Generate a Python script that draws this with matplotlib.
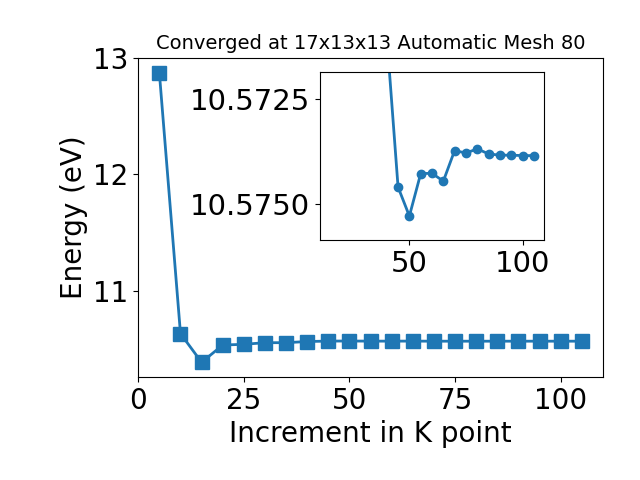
import matplotlib
matplotlib.use("Agg")
import matplotlib.pyplot as plt
from matplotlib.ticker import FormatStrFormatter

kpoints = [5, 10, 15, 20, 25, 30, 35, 40, 45, 50, 55, 60, 65, 70, 75, 80, 85, 90, 95, 100, 105]
energy = [12.87, 10.639, 10.393, 10.541, 10.547, 10.561, 10.561, 10.5710,
          10.57460, 10.57529, 10.57428, 10.57427, 10.57446, 10.57373, 10.57379,
          10.57369, 10.57381, 10.57384, 10.57384, 10.57385, 10.57385]

title = "Converged at 17x13x13 Automatic Mesh 80"
color = "#1f77b4"

fig = plt.figure(figsize=(6.4, 4.8), dpi=100)
ax = fig.add_axes([0.216, 0.215, 0.726, 0.665])
ax.plot(kpoints, energy, marker="s", markersize=10, linewidth=2, color=color)
ax.set_xlabel("Increment in K point", fontsize=20)
ax.set_ylabel("Energy (eV)", fontsize=20)
ax.set_title(title, fontsize=14)
ax.set_xticks([0, 25, 50, 75, 100])
ax.set_yticks([11, 12, 13])
ax.tick_params(labelsize=20)
ax.set_xlim(0, 110)

ins = fig.add_axes([0.5, 0.5, 0.35, 0.35])
ins.plot(kpoints[2:], energy[2:], marker="o", markersize=6, linewidth=2, color=color)
ins.set_ylim(10.57586, 10.57186)
ins.set_xticks([50, 100])
ins.set_yticks([10.5725, 10.5750])
ins.yaxis.set_major_formatter(FormatStrFormatter("%.4f"))
ins.tick_params(labelsize=21)

fig.savefig("out.png", dpi=100)
